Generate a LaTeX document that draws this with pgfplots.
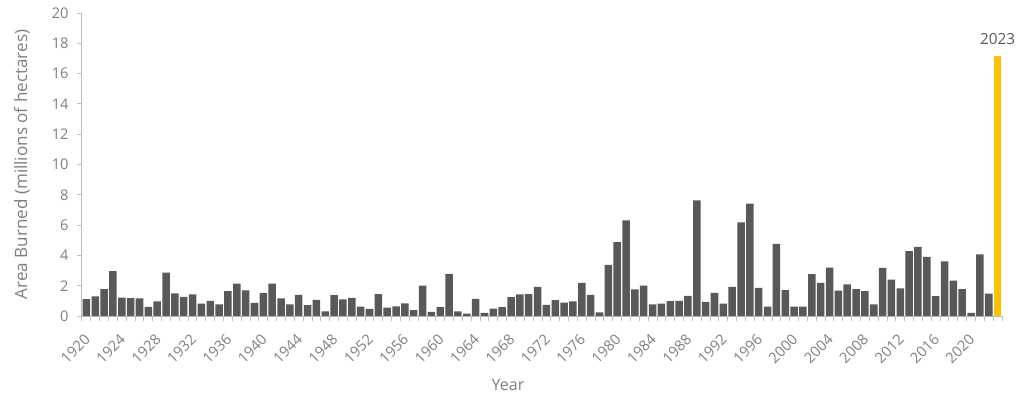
\documentclass[border=0pt]{standalone}
\usepackage{pgfplots}
\pgfplotsset{compat=1.18}
\usepackage{fontspec}
\setmainfont{Open Sans}
\definecolor{barc}{HTML}{595959}
\definecolor{hi}{HTML}{FFC000}
\definecolor{txt}{HTML}{7F7F7F}
\definecolor{axl}{HTML}{BFBFBF}
\pgfplotstableread{
year val
1920 1.11
1921 1.29
1922 1.78
1923 2.96
1924 1.22
1925 1.18
1926 1.16
1927 0.60
1928 0.96
1929 2.87
1930 1.49
1931 1.27
1932 1.42
1933 0.82
1934 1.00
1935 0.76
1936 1.64
1937 2.13
1938 1.69
1939 0.87
1940 1.51
1941 2.13
1942 1.16
1943 0.77
1944 1.40
1945 0.71
1946 1.07
1947 0.31
1948 1.38
1949 1.09
1950 1.20
1951 0.62
1952 0.47
1953 1.44
1954 0.56
1955 0.64
1956 0.84
1957 0.38
1958 2.00
1959 0.27
1960 0.58
1961 2.78
1962 0.31
1963 0.16
1964 1.13
1965 0.20
1966 0.49
1967 0.58
1968 1.24
1969 1.42
1970 1.44
1971 1.93
1972 0.73
1973 1.04
1974 0.89
1975 0.96
1976 2.18
1977 1.40
1978 0.24
1979 3.38
1980 4.87
1981 6.31
1982 1.76
1983 2.00
1984 0.76
1985 0.82
1986 0.98
1987 1.00
1988 1.33
1989 7.64
1990 0.93
1991 1.53
1992 0.82
1993 1.93
1994 6.18
1995 7.42
1996 1.86
1997 0.62
1998 4.76
1999 1.71
2000 0.62
2001 0.62
2002 2.76
2003 2.18
2004 3.20
2005 1.67
2006 2.09
2007 1.78
2008 1.64
2009 0.76
2010 3.18
2011 2.40
2012 1.82
2013 4.29
2014 4.56
2015 3.91
2016 1.31
2017 3.60
2018 2.33
2019 1.78
2020 0.20
2021 4.07
2022 1.47
}\mydata
\begin{document}
\begin{tikzpicture}
\begin{axis}[
  name=ax,
  scale only axis, width=690pt, height=227.25pt,
  xmin=1919.5, xmax=2023.5, ymin=0, ymax=20,
  ytick={0,2,...,20},
  minor ytick={0,2,...,20},
  xtick={1920,1924,...,2020},
  minor xtick={1919.5,1920.5,...,2023.6},
  axis x line*=bottom, axis y line*=left,
  axis line style={draw=axl, line width=0.75pt},
  tick align=outside,
  major tick length=0pt,
  minor tick length=3.75pt,
  every tick/.style={draw=axl, line width=0.75pt},
  /pgf/number format/1000 sep={},
  /pgf/number format/assume math mode=true,
  ticklabel style={font=\fontsize{11pt}{13pt}\selectfont, text=txt},
  xticklabel style={xshift=-2.25pt, yshift=-12.5pt, rotate=45, anchor=north east, inner sep=0pt},
  yticklabel style={xshift=-6.5pt},
  xlabel={Year}, ylabel={Area Burned (millions of hectares)},
  xlabel style={font=\fontsize{12pt}{14pt}\selectfont, text=txt, at={(axis description cs:0.5,0)}, anchor=center, yshift=-52pt, xshift=-25.5pt},
  ylabel style={font=\fontsize{12.8pt}{15pt}\selectfont, text=txt, at={(axis description cs:0,0.5)}, anchor=center, yshift=45pt},
  clip=false,
]
\addplot[ybar, bar width=0.85, fill=barc, draw=none] table[x=year, y=val] {\mydata};
\addplot[ybar, bar width=0.85, fill=hi, draw=none,
  nodes near coords={2023},
  every node near coord/.append style={font=\fontsize{11.5pt}{13pt}\selectfont, text=barc, anchor=south, yshift=5pt}]
  coordinates {(2023,17.15)};
\end{axis}
\pgfresetboundingbox
\path[use as bounding box] ([xshift=-61.5pt,yshift=-66pt]ax.south west) rectangle ([xshift=706.5pt,yshift=237pt]ax.south west);
\end{tikzpicture}
\end{document}
